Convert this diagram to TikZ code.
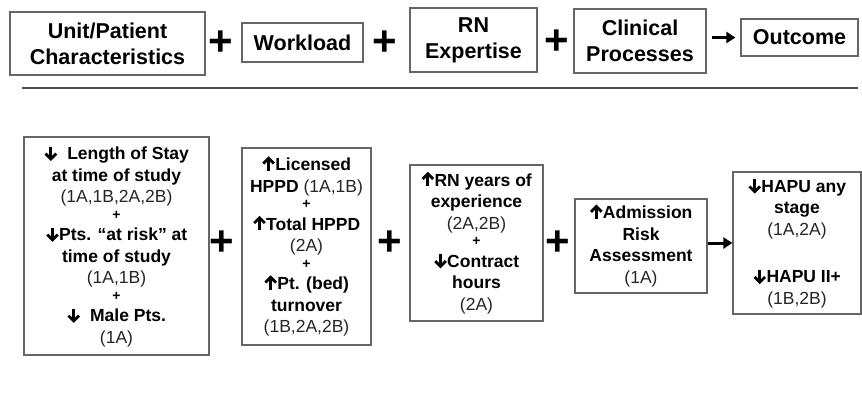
\documentclass[tikz,border=0pt]{standalone}
\usepackage{fontspec}
\setmainfont{Liberation Sans}
\usetikzlibrary{arrows.meta}
\newcommand\upA{\tikz[baseline=0pt,x=1pt,y=1pt]{\path (0,0) (13,13);
  \draw[line width=2.8pt, line cap=butt] (6.5,0) -- (6.5,11.5);
  \draw[line width=2.8pt, line join=miter, line cap=butt] (1.2,7) -- (6.5,12.3) -- (11.8,7);}}
\newcommand\dnA{\tikz[baseline=0pt,x=1pt,y=1pt]{\path (0,0) (13,13);
  \draw[line width=2.8pt, line cap=butt] (6.5,13) -- (6.5,1.5);
  \draw[line width=2.8pt, line join=miter, line cap=butt] (1.2,6) -- (6.5,0.7) -- (11.8,6);}}
\newcommand\rg[1]{{\mdseries\color{black!85}#1}}
\newcommand\pl{{\fontsize{14}{14}\selectfont +}}
\begin{document}
\begin{tikzpicture}[x=1pt,y=-1pt,
  topbox/.style={draw=black!60, line width=1.2pt, inner sep=0pt, align=center,
    font=\fontsize{21.5}{26}\selectfont\bfseries},
  botbox/.style={draw=black!60, line width=1.2pt, inner sep=0pt, align=center,
    font=\fontsize{17.5}{21.5}\selectfont\bfseries},
  plus/.style={font=\fontsize{42}{42}\selectfont\bfseries, inner sep=0pt},
  conn/.style={line width=3pt, -{Triangle[length=9pt,width=11pt]}}
]
\useasboundingbox (0,0) rectangle (862,394);
% top row
\node[topbox, minimum width=195pt, minimum height=63pt] (unit) at (107.5,43.5) {Unit/Patient\\Characteristics};
\node[plus] (p1) at (221,43) {+};
\node[topbox, minimum width=121pt, minimum height=39pt] (work) at (302.5,42.5) {Workload};
\node[plus] (p2) at (385,43) {+};
\node[topbox, minimum width=127pt, minimum height=64pt] (rn) at (473.5,40) {RN\\Expertise};
\node[plus] (p3) at (557,42) {+};
\node[topbox, minimum width=132pt, minimum height=64pt] (clin) at (640,41) {Clinical\\Processes};
\node[topbox, minimum width=117pt, minimum height=37pt] (out) at (799.5,37.5) {Outcome};
\draw[conn, shorten <=5pt, shorten >=5pt] (clin.east |- out) -- (out.west);
% separator
\coordinate (l1) at (22,88);
\coordinate (l2) at (858,88);
\draw[black!70, line width=1.3pt] (l1) -- (l2);
% bottom row
\node[botbox, minimum width=185pt, minimum height=218pt] (a) at (116.5,246)
 {\dnA\ \ Length of Stay\\ at time of study\\ \rg{(1A,1B,2A,2B)}\\[-5pt] \pl\\ \dnA Pts. “at risk” at\\ time of study\\ \rg{(1A,1B)}\\[-5pt] \pl\\ \dnA\ \ Male Pts.\\ \rg{(1A)}};
\node[plus] (q1) at (222,243) {+};
\node[botbox, minimum width=129pt, minimum height=197pt] (b) at (306.5,246.5)
 {\upA Licensed\\ HPPD \rg{(1A,1B)}\\[-5pt] \pl\\ \upA Total HPPD\\ \rg{(2A)}\\[-5pt] \pl\\ \upA Pt. (bed)\\ turnover\\ \rg{(1B,2A,2B)}};
\node[plus] (q2) at (390,243) {+};
\node[botbox, minimum width=133pt, minimum height=156pt] (c) at (476.5,243)
 {\upA RN years of\\ experience\\ \rg{(2A,2B)}\\[-5pt] \pl\\ \dnA Contract\\ hours\\ \rg{(2A)}};
\node[plus] (q3) at (558,243) {+};
\node[botbox, minimum width=132pt, minimum height=94pt] (d) at (641,246)
 {\upA Admission\\ Risk\\ Assessment\\ \rg{(1A)}};
\node[botbox, minimum width=128pt, minimum height=142pt] (e) at (797,243)
 {\dnA HAPU any\\ stage\\ \rg{(1A,2A)}\\[26pt] \dnA HAPU II+\\ \rg{(1B,2B)}};
\draw[conn] (d.east |- e) -- (e.west);
\end{tikzpicture}
\end{document}
